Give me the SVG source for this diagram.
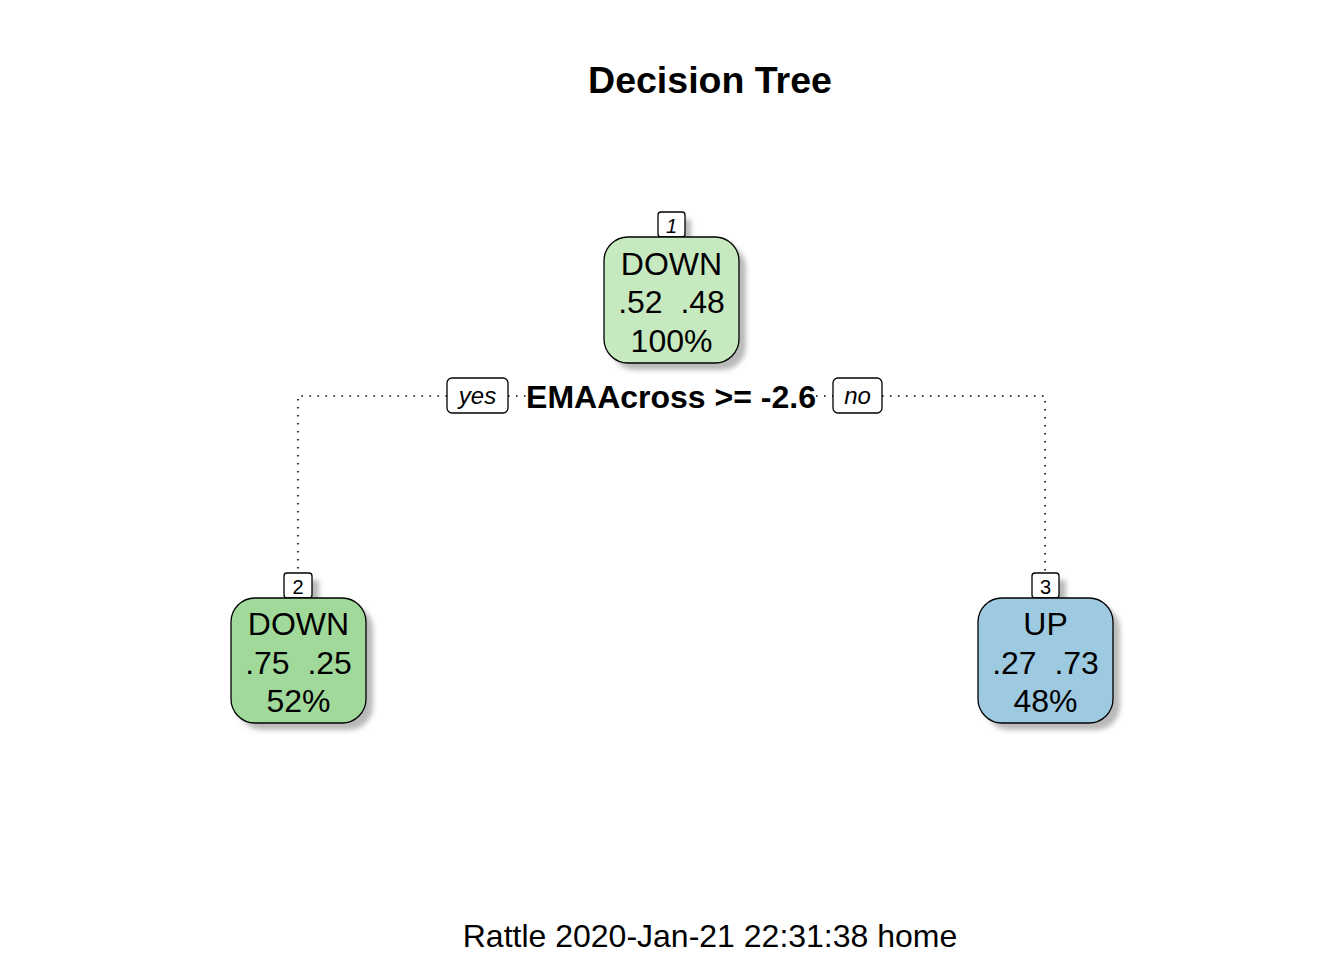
<svg xmlns="http://www.w3.org/2000/svg" width="1344" height="960" viewBox="0 0 1344 960">
<defs>
<filter id="blur" x="-20%" y="-20%" width="140%" height="140%"><feGaussianBlur stdDeviation="2.5"/></filter>
<style>
text{font-family:"Liberation Sans",Arial,sans-serif;fill:#000;text-anchor:middle;white-space:pre}
.box{stroke:#000;stroke-width:1.3}
.shadow{fill:#a8a8a8;filter:url(#blur);opacity:0.8}
.lbl{fill:#fff;stroke:#000;stroke-width:1.3}
.nt{font-size:32px}
.num{font-size:20px}
.edge{fill:none;stroke:#000;stroke-width:1.6;stroke-dasharray:1.6 6.4}
</style>
</defs>
<rect width="1344" height="960" fill="#fff"/>
<text x="710" y="93" font-size="37.5" font-weight="bold">Decision Tree</text>
<g id="connectors">
<path class="edge" d="M447 396 H298 V573"/>
<path class="edge" d="M882 396 H1045 V573"/>
<path class="edge" d="M508 396 H526"/>
<path class="edge" d="M816 396 H833"/>
</g>
<g id="split">
<rect class="lbl" x="447" y="378" width="61" height="35" rx="5"/>
<text x="477.5" y="404" font-size="24" font-style="italic">yes</text>
<text x="671" y="408" font-size="32" font-weight="bold">EMAAcross &gt;= -2.6</text>
<rect class="lbl" x="833" y="378" width="49" height="35" rx="5"/>
<text x="857.5" y="404" font-size="24" font-style="italic">no</text>
</g>
<g id="node1">
<rect class="shadow" x="664" y="219" width="27" height="25" rx="3"/>
<rect class="shadow" x="611" y="244" width="135" height="126" rx="24"/>
<rect class="lbl" x="658" y="212" width="27" height="25" rx="3"/>
<text class="num" x="671.5" y="233" font-style="italic">1</text>
<rect class="box" x="604" y="237" width="135" height="126" rx="24" fill="#c7e9c0"/>
<text class="nt" x="671.5" y="275">DOWN</text>
<text class="nt" x="671.5" y="313">.52  .48</text>
<text class="nt" x="671.5" y="352">100%</text>
</g>
<g id="node2">
<rect class="shadow" x="291" y="580" width="28" height="25" rx="3"/>
<rect class="shadow" x="238" y="605" width="135" height="125" rx="24"/>
<rect class="lbl" x="284" y="573" width="28" height="25" rx="3"/>
<text class="num" x="298" y="594">2</text>
<rect class="box" x="231" y="598" width="135" height="125" rx="24" fill="#a1d99b"/>
<text class="nt" x="298.5" y="635">DOWN</text>
<text class="nt" x="298.5" y="674">.75  .25</text>
<text class="nt" x="298.5" y="712">52%</text>
</g>
<g id="node3">
<rect class="shadow" x="1039" y="580" width="27" height="25" rx="3"/>
<rect class="shadow" x="985" y="605" width="135" height="125" rx="24"/>
<rect class="lbl" x="1032" y="573" width="27" height="25" rx="3"/>
<text class="num" x="1045.5" y="594">3</text>
<rect class="box" x="978" y="598" width="135" height="125" rx="24" fill="#9ecae1"/>
<text class="nt" x="1045.5" y="635">UP</text>
<text class="nt" x="1045.5" y="674">.27  .73</text>
<text class="nt" x="1045.5" y="712">48%</text>
</g>
<text x="710" y="947" font-size="32">Rattle 2020-Jan-21 22:31:38 home</text>
</svg>
